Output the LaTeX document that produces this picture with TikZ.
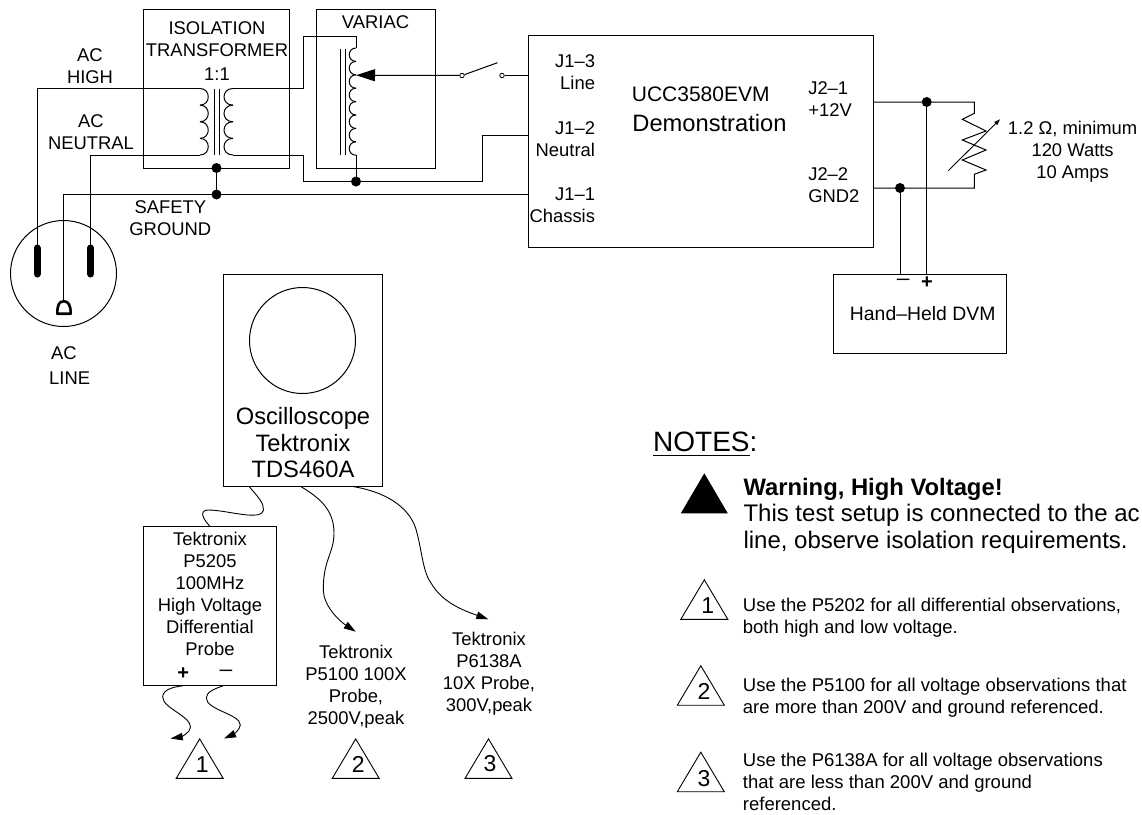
\documentclass[tikz,border=0pt]{standalone}
\usepackage{fontspec}
\setmainfont{Liberation Sans}
\usetikzlibrary{arrows.meta}
\newcommand\fs[2]{\fontsize{#1}{#2}\selectfont}
\newcommand\ml[2]{\begin{tabular}[t]{@{}#1@{}}#2\end{tabular}}
\newcommand\wideminus{\scalebox{1.3}[1]{\mdseries −}}
\newcommand\wtri[2]{\draw[thinline] ({#1-23.5},{#2}) -- ({#1},{#2-39.5}) -- ({#1+23.5},{#2}) -- cycle;}
\tikzset{
  wire/.style={line width=1pt,line join=miter},
  thinline/.style={line width=.9pt,line join=miter},
  boxx/.style={draw,line width=1pt,inner sep=0,outer sep=0},
  dot/.style={circle,fill=black,inner sep=0,minimum size=10pt,outer sep=0},
  contact/.style={circle,draw,fill=white,line width=.8pt,inner sep=0,minimum size=4.5pt},
  lbl/.style={inner sep=0,outer sep=0,font=\fs{18.4}{22}},
  big/.style={inner sep=0,outer sep=0,font=\fs{23.7}{26.7}},
  num/.style={inner sep=0,outer sep=0,font=\fs{23}{27}},
  pol/.style={inner sep=0,outer sep=0,font=\fs{20}{22}\bfseries},
  blade/.style={line width=7pt,line cap=round},
  tip/.style={-{Triangle[length=12pt,width=7.5pt]}}
}
\begin{document}
\begin{tikzpicture}[x=1pt,y=-1pt]
\useasboundingbox (0,0) rectangle (1142,814);
% boxes
\node[boxx,minimum width=146,minimum height=159] (iso) at (216.5,88.5) {};
\node[boxx,minimum width=119,minimum height=159] (var) at (375.5,88.5) {};
\node[boxx,minimum width=345.4,minimum height=211.8] (ucc) at (701,141.6) {};
\node[boxx,minimum width=173,minimum height=79.4] (dvm) at (920.2,314) {};
\node[boxx,minimum width=159.2,minimum height=212] (scope) at (302.8,380) {};
\node[boxx,minimum width=133,minimum height=159.4] (probe) at (209.8,606) {};
\node[circle,draw,line width=1pt,minimum size=106pt,inner sep=0] (screen) at (302.5,340.5) {};
\node[circle,draw,line width=1pt,minimum size=106pt,inner sep=0] (plug) at (63.5,273.5) {};
% junction coordinates
\coordinate (cHi) at (37,250);
\coordinate (cNe) at (90.5,250);
\coordinate (cGn) at (63.5,300);
\node[dot] (dIso) at (216.5,168) {};
\node[dot] (dGnd) at (216.5,194.5) {};
\node[dot] (dVar) at (356,181.5) {};
\node[dot] (dPos) at (926.7,102) {};
\node[dot] (dNeg) at (900,188) {};
\coordinate (lHiT) at (200,88.5);
\coordinate (lNeT) at (200,155);
\coordinate (rHiT) at (233,88.5);
\coordinate (rNeT) at (233,155);
\coordinate (vT) at (356,48);
\coordinate (vWip) at (356,75.2);
\coordinate (j13) at (528.3,75.5);
\coordinate (j12) at (528.3,135);
\coordinate (j11) at (528.3,194.5);
\coordinate (j21) at (873.7,102);
\coordinate (j22) at (873.7,188);
\coordinate (rT) at (974.3,113.3);
\coordinate (rB) at (974.3,174.3);
% mains wires
\draw[wire] (lHiT) -- (37,88.5) -- (cHi);
\draw[wire] (lNeT) -- (90.5,155) -- (cNe);
\draw[wire] (j11) -- (dGnd.center) -| (cGn);
\draw[wire] (dIso) -- (dGnd);
\draw[wire] (rHiT) -- (303,88.5) -- (303,36) -- (356,36) -- (vT);
\draw[wire] (rNeT) -- (303,155) -- (303,181.5) -- (482,181.5) -- (482,135) -- (j12);
\draw[wire] (356,155) -- (dVar);
% plug
\draw[blade] (37,248) -- (37,274);
\draw[blade] (90.5,248) -- (90.5,274);
\draw[line width=2.6pt,line join=round] (57.3,313.7) .. controls (57.3,305) and (59,301.3) .. (63.8,301.3) .. controls (68.5,301.3) and (70.7,305) .. (70.7,313.7) -- cycle;
% transformer
\foreach \i in {0,...,3} \draw[wire] (200,{88.5+\i*16.625}) .. controls +(11,0) and +(11,0) .. ++(0,16.625);
\foreach \i in {0,...,3} \draw[wire] (233,{88.5+\i*16.625}) .. controls +(-12,0) and +(-12,0) .. ++(0,16.625);
\draw[wire] (214,88.5) -- (214,155) (219,88.5) -- (219,155);
% variac
\foreach \i in {0,...,7} \draw[wire] (356,{48+\i*13.4}) .. controls +(-9,0) and +(-9,0) .. ++(0,13.4);
\draw[wire] (340.5,48.5) -- (340.5,155) (345,48.5) -- (345,155);
% switch
\node[contact] (sw1) at (462,75.5) {};
\node[contact] (sw2) at (502,75.5) {};
\draw[wire,-{Triangle[length=19pt,width=12pt]}] (sw1) -- (vWip);
\draw[wire] (sw1) -- (497.5,62.7);
\draw[wire] (sw2) -- (j13);
% output side
\draw[wire] (j21) -- (974.3,102) -- (rT) -- (962.3,119.3) -- (986,131) -- (962.3,140) -- (986,150) -- (962.3,160) -- (986,170) -- (rB) -- (974.3,188) -- (j22);
\draw[thinline,-{Triangle[length=6pt,width=4pt]}] (948.3,170.7) -- (1000,119.3);
\draw[wire] (dPos) -- (dPos|-dvm.north);
\draw[wire] (dNeg) -- (dNeg|-dvm.north);
% cables
\draw[thinline] (249.3,486.7) .. controls (258,497) and (264,503) .. (263.5,510) .. controls (263,515) and (256,515.5) .. (248,515) .. controls (235,514) and (220,510) .. (208,510) .. controls (203,510) and (202,513) .. (203,516) .. controls (204,520) and (208,524) .. (210,526.3);
\coordinate (p2) at (355.7,631.7);
\coordinate (p3) at (488.3,619.3);
\draw[thinline,tip] (301,486.7) .. controls (320,498) and (334,510) .. (334,533) .. controls (334,553) and (323,560) .. (323.3,590) .. controls (323.5,605) and (338,620) .. (p2);
\draw[thinline,tip] (354,486.7) .. controls (390,493) and (412,510) .. (417,533) .. controls (422,552) and (423,572) .. (431,583) .. controls (442,602) and (462,610) .. (p3);
\draw[thinline,tip] (183.3,685.7) .. controls (172,687) and (162.7,690) .. (162.7,697) .. controls (162.7,708) and (190.5,716) .. (190.5,727) .. controls (190.5,733) and (180,737) .. (170.7,738.5);
\draw[thinline,tip] (223.3,685.7) .. controls (214,689) and (206.3,692) .. (206.3,698) .. controls (206.3,710) and (240.3,714) .. (240.3,725) .. controls (240.3,730) and (232,735) .. (224,738.5);
% triangles
\wtri{199.7}{778.4}
\wtri{355.7}{778.4}
\wtri{488.5}{778.4}
\wtri{704.3}{619.3}
\wtri{700.8}{705.2}
\wtri{700.8}{791.7}
\fill ({704.3-23.5},513.3) -- (704.3,473.3) -- ({704.3+23.5},513.3) -- cycle;
% text: mains side
\node[lbl,anchor=base] (tHi) at (90,61.7) {\ml{c}{AC\\HIGH}};
\node[lbl,anchor=base] (tNe) at (91,127.3) {\ml{c}{AC\\NEUTRAL}};
\node[lbl,anchor=base] (tIso) at (217,34) {\ml{c}{ISOLATION\\TRANSFORMER\\[2.3pt]1:1}};
\node[lbl,anchor=base] (tVar) at (375.5,28.3) {VARIAC};
\node[lbl,anchor=base] (tSaf) at (170.3,213.3) {\ml{c}{SAFETY\\GROUND}};
\node[lbl,anchor=base] (tAc) at (63.8,359) {AC};
\node[lbl,anchor=base] (tLi) at (69.7,384) {LINE};
% EVM
\node[lbl,anchor=base east] (tJ13) at (595,67.3) {\ml{r}{J1–3\\Line}};
\node[lbl,anchor=base east] (tJ12) at (595,134.3) {\ml{r}{J1–2\\Neutral}};
\node[lbl,anchor=base east] (tJ11) at (595,200.3) {\ml{r}{J1–1\\Chassis}};
\node[inner sep=0,anchor=base west,font=\fs{21}{24}] (tU) at (631.7,101) {UCC3580EVM};
\node[inner sep=0,anchor=base west,font=\fs{23.7}{26}] (tD) at (632.2,131.7) {Demonstration};
\node[lbl,anchor=base west] (tJ21) at (808.3,94) {\ml{l}{J2–1\\+12V}};
\node[lbl,anchor=base west] (tJ22) at (808.3,180.3) {\ml{l}{J2–2\\GND2}};
\node[lbl,anchor=base] (tR) at (1072.6,134) {\ml{c}{1.2 Ω, minimum\\120 Watts\\10 Amps}};
\node[inner sep=0,outer sep=0,font=\fs{19.4}{22},anchor=base] (tDvm) at (922.7,320) {Hand–Held DVM};
\node[pol] (tM) at (903.3,283.3) {\wideminus};
\node[pol] (tP) at (927,283) {+};
% scope and probes
\node[big,anchor=base] (tS) at (303,424.3) {\ml{c}{Oscilloscope\\Tektronix\\TDS460A}};
\node[lbl,anchor=base] (tP1) at (210,545) {\ml{c}{Tektronix\\P5205\\100MHz\\High Voltage\\Differential\\Probe}};
\node[pol] (pP) at (183.3,674) {+};
\node[pol] (pM) at (226,674) {\wideminus};
\node[lbl,anchor=base] (tP2) at (356,658.3) {\ml{c}{Tektronix\\P5100 100X\\Probe,\\2500V,peak}};
\node[lbl,anchor=base] (tP3) at (489,645) {\ml{c}{Tektronix\\P6138A\\10X Probe,\\300V,peak}};
\node[num] (n1) at (202.3,764.5) {1};
\node[num] (n2) at (358.3,764) {2};
\node[num] (n3) at (490,764) {3};
% notes
\node[inner sep=0,anchor=base west,font=\fs{28}{32}] (tN) at (653,451.7) {NOTES:};
\draw[line width=1.2pt] (653,455.2) -- (750,455.2);
\node[inner sep=0,anchor=base west,font=\fs{24}{26.5}] (tW) at (743.3,495) {\ml{l}{{\fs{23.8}{26.5}\textbf{Warning, High Voltage!}}\\This test setup is connected to the ac\\line, observe isolation requirements.}};
\node[num] (m1) at (707.7,605.7) {1};
\node[num] (m2) at (704,691.7) {2};
\node[num] (m3) at (704,778.3) {3};
\node[inner sep=0,anchor=base west,font=\fs{18.5}{22}] (tA) at (742.7,611.7) {\ml{l}{Use the P5202 for all differential observations,\\both high and low voltage.}};
\node[inner sep=0,anchor=base west,font=\fs{18.5}{22}] (tB) at (742.7,691.7) {\ml{l}{Use the P5100 for all voltage observations that\\are more than 200V and ground referenced.}};
\node[inner sep=0,anchor=base west,font=\fs{18.5}{22}] (tC) at (742.7,766.7) {\ml{l}{Use the P6138A for all voltage observations\\that are less than 200V and ground\\referenced.}};
\end{tikzpicture}
\end{document}
